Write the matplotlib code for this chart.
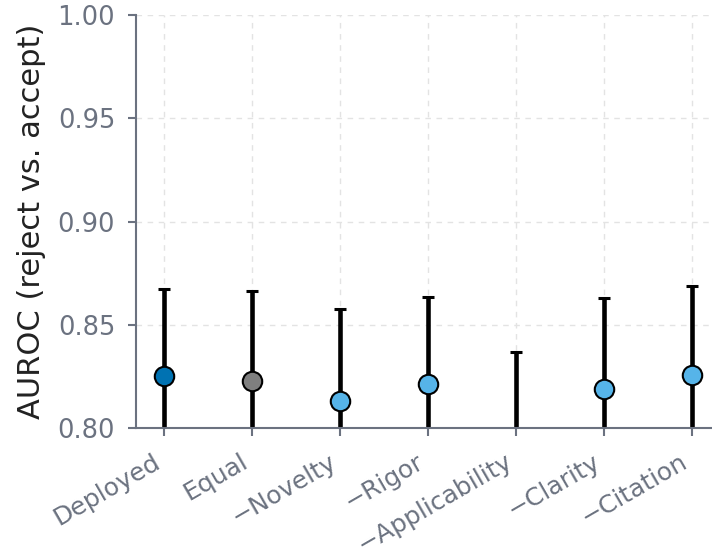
import matplotlib
matplotlib.use("Agg")
import matplotlib.pyplot as plt
import numpy as np

categories = ["Deployed", "Equal", "\u2212Novelty", "\u2212Rigor", "\u2212Applicability", "\u2212Clarity", "\u2212Citation"]
auroc = [0.8252, 0.8228, 0.8131, 0.8213, 0.790, 0.8189, 0.8257]
upper = [0.8673, 0.8663, 0.8576, 0.8634, 0.8368, 0.8630, 0.8688]
colors = ["#0072B2", "#7f7f7f", "#56B4E9", "#56B4E9", "#56B4E9", "#56B4E9", "#56B4E9"]

yticks = [0.80, 0.85, 0.90, 0.95, 1.00]

fig = plt.figure(figsize=(7.12, 5.54), dpi=100)
ax = fig.add_axes([136/712, 1-428/554, (712-136)/712, (428-15)/554])

x = np.arange(len(categories))
auroc_a = np.array(auroc)
upper_a = np.array(upper)
err = upper_a - auroc_a
for i in range(len(categories)):
    ax.errorbar(x[i], auroc_a[i], yerr=[[err[i]], [err[i]]], fmt="none", ecolor="black",
                elinewidth=3.3, capsize=4.5, capthick=2.2, zorder=2)
    ax.plot(x[i], auroc_a[i], "o", markersize=14, markerfacecolor=colors[i],
            markeredgecolor="black", markeredgewidth=1.5, zorder=3)

ax.set_ylim(0.80, 1.00)
ax.set_xlim(-0.32, 6.23)
ax.set_yticks(yticks)
ax.set_yticklabels([f"{v:.2f}" for v in yticks])
ax.set_xticks(x)
ax.set_xticklabels(categories, rotation=30, ha="right")

gray = "#6b7280"
for s in ["top", "right"]:
    ax.spines[s].set_visible(False)
for s in ["left", "bottom"]:
    ax.spines[s].set_color(gray)
    ax.spines[s].set_linewidth(1.5)
ax.tick_params(axis="both", colors=gray, labelcolor=gray, width=1.5, length=6)
ax.tick_params(axis="y", labelsize=18.5, pad=9)
ax.tick_params(axis="x", labelsize=18, pad=9.5)
ax.grid(True, linestyle=(0, (4, 4)), color="#e3e3e3", linewidth=1)
ax.set_axisbelow(True)
ax.set_ylabel("AUROC (reject vs. accept)", fontsize=22, color="#222222", labelpad=8)

fig.savefig("out.png", dpi=100)
